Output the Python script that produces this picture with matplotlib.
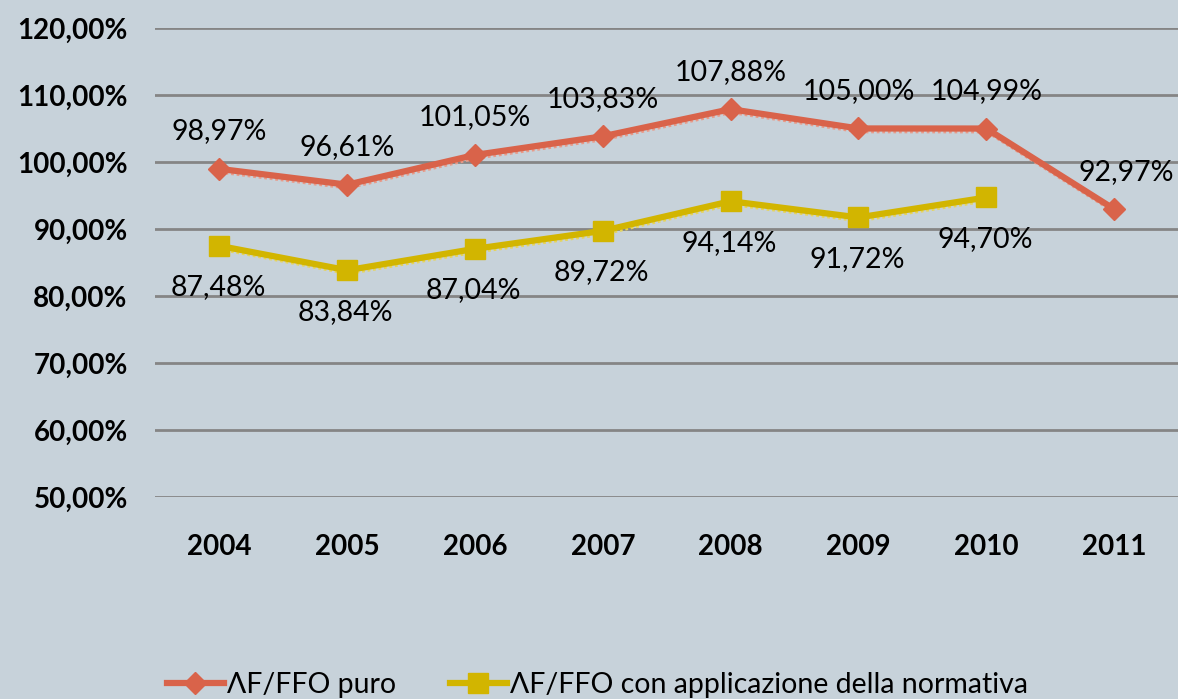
import matplotlib.pyplot as plt
import matplotlib.transforms as mtransforms
import numpy as np

# Data
years = ['2004', '2005', '2006', '2007', '2008', '2009', '2010', '2011']
af_ffo_puro = [98.97, 96.61, 101.05, 103.83, 107.88, 105.00, 104.99, 92.97]
af_ffo_norm = [87.48, 83.84, 87.04, 89.72, 94.14, 91.72, 94.70]

bg = '#c7d2da'
orange = '#d9634a'
yellow = '#d2b500'

plt.rcParams['font.family'] = ['Lato', 'DejaVu Sans']


def fmt(v):
    return f'{v:.2f}%'.replace('.', ',')


fig = plt.figure(figsize=(11.78, 6.99), dpi=100)
fig.patch.set_facecolor(bg)
ax = fig.add_axes([0.132, 0.289, 0.868, 0.671])
ax.set_facecolor(bg)

x1 = np.arange(len(af_ffo_puro))
x2 = np.arange(len(af_ffo_norm))

# faint dotted "shadow" under each line, as in the original
shadow = mtransforms.offset_copy(ax.transData, fig=fig, x=0.5, y=-2.5, units='points')
ax.plot(x1, af_ffo_puro, color='#e89a88', lw=2, ls=(0, (1, 1)), transform=shadow, zorder=2)
ax.plot(x2, af_ffo_norm, color='#e6d45a', lw=2, ls=(0, (1, 1)), transform=shadow, zorder=2)

l1, = ax.plot(x1, af_ffo_puro, color=orange, lw=4.5, marker='D', ms=11,
              label='ΛF/FFO puro', zorder=3)
l2, = ax.plot(x2, af_ffo_norm, color=yellow, lw=4.5, marker='s', ms=14.5,
              label='ΛF/FFO con applicazione della normativa', zorder=3)

# Data labels
for i, v in enumerate(af_ffo_puro):
    dx = 9 if i == len(af_ffo_puro) - 1 else 0
    ax.annotate(fmt(v), (i, v), xytext=(dx, 27), textcoords='offset points',
                ha='center', va='center', fontsize=20.5)
for i, v in enumerate(af_ffo_norm):
    ax.annotate(fmt(v), (i, v), xytext=(-1, -30), textcoords='offset points',
                ha='center', va='center', fontsize=20.5)

ax.set_xlim(-0.5, len(years) - 0.5)
ax.set_ylim(50, 120)
yt = np.arange(50, 121, 10)
ax.set_yticks(yt)
ax.set_yticklabels([fmt(t) for t in yt], fontsize=20, fontweight='bold')
ax.set_xticks(x1)
ax.set_xticklabels(years, fontsize=20, fontweight='bold')
ax.tick_params(length=0)
ax.tick_params(axis='x', pad=27)
ax.tick_params(axis='y', pad=20)
ax.yaxis.grid(True, color='#858585', lw=2)
ax.set_axisbelow(True)
for s in ax.spines.values():
    s.set_visible(False)

fig.legend(handles=[l1, l2], loc='lower left', bbox_to_anchor=(0.12, -0.035),
           ncol=2, frameon=False, fontsize=20.5, handlelength=2.0,
           handletextpad=0.1, columnspacing=1.9)

fig.savefig('out.png', dpi=100, facecolor=bg)
